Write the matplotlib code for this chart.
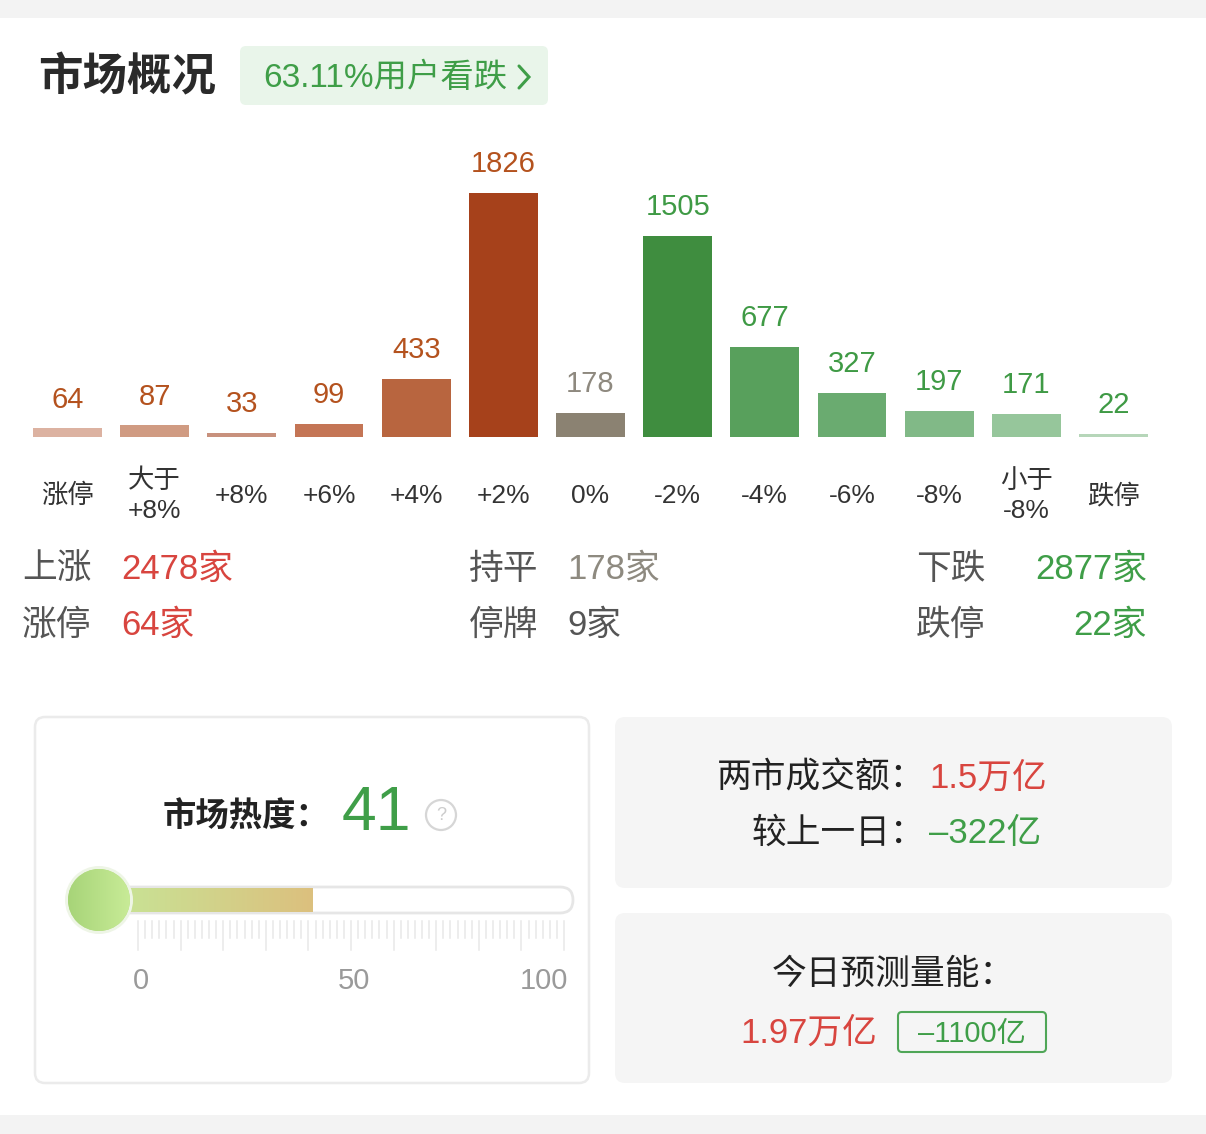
import numpy as np
import matplotlib
matplotlib.use("Agg")
import matplotlib.pyplot as plt
from matplotlib.patches import FancyBboxPatch, Circle, Rectangle
from matplotlib.transforms import blended_transform_factory
from matplotlib.colors import LinearSegmentedColormap
from matplotlib.lines import Line2D

plt.rcParams['font.family'] = ['Liberation Sans', 'Noto Sans CJK SC', 'DejaVu Sans']

# ---------------- data ----------------
title = "市场概况"
sentiment = "63.11%用户看跌"

categories = ["涨停", "大于\n+8%", "+8%", "+6%", "+4%", "+2%", "0%",
              "-2%", "-4%", "-6%", "-8%", "小于\n-8%", "跌停"]
counts = [64, 87, 33, 99, 433, 1826, 178, 1505, 677, 327, 197, 171, 22]
bar_colors = ["#dcb2a1", "#d09b82", "#c8917d", "#c47555", "#b8653f", "#a6411b",
              "#8b8272", "#3f8d3f", "#58a05c", "#6aab70", "#81b987", "#96c69b", "#b6d6b9"]
value_colors = ["#b4521e"] * 6 + ["#8e897f"] + ["#3f9a45"] * 6

summary_left_labels = ["上涨", "涨停"]
summary_left_values = ["2478家", "64家"]
summary_mid_labels = ["持平", "停牌"]
summary_mid_values = ["178家", "9家"]
summary_right_labels = ["下跌", "跌停"]
summary_right_values = ["2877家", "22家"]

heat_label = "市场热度："
heat_value = 41
heat_tick_labels = [0, 50, 100]

turnover_label = "两市成交额："
turnover_value = "1.5万亿"
change_label = "较上一日："
change_value = "–322亿"
forecast_label = "今日预测量能："
forecast_value = "1.97万亿"
forecast_change = "–1100亿"

RED = "#d8453f"
GREEN = "#3f9e48"
GRAY = "#8e8a80"
DARK = "#222222"
LABEL = "#555555"

# ---------------- figure ----------------
W, H = 1206, 1134
fig = plt.figure(figsize=(W / 100, H / 100), dpi=100)
fig.patch.set_facecolor("white")

bg = fig.add_axes([0, 0, 1, 1])
bg.set_xlim(0, W)
bg.set_ylim(H, 0)
bg.axis("off")

# top & bottom grey bands
bg.add_patch(Rectangle((0, 0), W, 18, facecolor="#f3f3f3", edgecolor="none"))
bg.add_patch(Rectangle((0, 1115), W, 19, facecolor="#f3f3f3", edgecolor="none"))

# title and sentiment badge
bg.text(38, 78, title, fontsize=32, fontweight="bold", color="#2a2a2a", ha="left", va="center")
bg.add_patch(FancyBboxPatch((240, 46), 308, 59, boxstyle="round,pad=0,rounding_size=6",
                            facecolor="#e9f5ea", edgecolor="none"))
bg.text(263, 78, sentiment, fontsize=24, color=GREEN, ha="left", va="center")
bg.add_line(Line2D([519, 529, 519], [66, 77, 88], color=GREEN, lw=2.2,
                   solid_capstyle="round", solid_joinstyle="miter"))

# ---------------- bar chart ----------------
ax = fig.add_axes([24 / W, (H - 437) / H, (1157 - 24) / W, 244 / H])
ax.patch.set_alpha(0)
x = np.arange(len(categories))
ax.bar(x, counts, width=0.79, color=bar_colors)
ax.set_xlim(-0.5, len(categories) - 0.5)
ax.set_ylim(0, max(counts))
ax.axis("off")
for i, v in enumerate(counts):
    ax.annotate(str(v), (i, v), xytext=(0, 15), textcoords="offset points",
                ha="center", va="baseline", fontsize=21, color=value_colors[i],
                annotation_clip=False)

trans = blended_transform_factory(ax.transData, bg.transData)
for i, cat in enumerate(categories):
    lines = cat.split("\n")
    n = len(lines)
    for k, line in enumerate(lines):
        yy = 496 + (k - (n - 1) / 2) * 31
        bg.text(i, yy, line, transform=trans, ha="center", va="center",
                fontsize=19, color="#333333")

# summary rows
rows_y = [569, 625]
for r in range(2):
    y = rows_y[r]
    bg.text(22, y, summary_left_labels[r], fontsize=25, color=LABEL, ha="left", va="center")
    bg.text(121, y, summary_left_values[r], fontsize=25, color=RED, ha="left", va="center")
    bg.text(469, y, summary_mid_labels[r], fontsize=25, color=LABEL, ha="left", va="center")
    bg.text(567, y, summary_mid_values[r], fontsize=25,
            color=GRAY if r == 0 else LABEL, ha="left", va="center")
    bg.text(916, y, summary_right_labels[r], fontsize=25, color=LABEL, ha="left", va="center")
    bg.text(1147, y, summary_right_values[r], fontsize=25, color=GREEN, ha="right", va="center")

# ---------------- heat card ----------------
bg.add_patch(FancyBboxPatch((35, 717), 554, 366, boxstyle="round,pad=0,rounding_size=10",
                            facecolor="white", edgecolor="#ebebeb", lw=1.8))
bg.text(163, 818, heat_label, fontsize=24, fontweight="bold", color=DARK, ha="left", va="center")
bg.text(342, 813, str(heat_value), fontsize=45, color=GREEN, ha="left", va="center")
bg.add_patch(Circle((441, 815), 15, facecolor="none", edgecolor="#d6d6d6", lw=1.6))
bg.text(441, 815, "?", fontsize=13, color="#cccccc", ha="center", va="center")

x0, x1 = 138, 564  # thermometer scale 0 -> 100


def sx(v):
    return x0 + (x1 - x0) * v / 100.0


tube = FancyBboxPatch((99, 887), 474, 26, boxstyle="round,pad=0,rounding_size=13",
                      facecolor="white", edgecolor="#e6e6e6", lw=2)
bg.add_patch(tube)
fill_cmap = LinearSegmentedColormap.from_list("fill", ["#c6e798", "#dcc07e"])
grad = np.linspace(0, 1, 256).reshape(1, -1)
im = bg.imshow(grad, cmap=fill_cmap, extent=(99, sx(heat_value), 912, 888),
               aspect="auto", zorder=2)
im.set_clip_path(tube)

# ticks
for k in range(61):
    v = k * 100 / 60
    major = (k % 6 == 0)
    bg.add_line(Line2D([sx(v), sx(v)], [921, 950 if major else 938],
                       color="#e8e8e8", lw=1.1))
for t in heat_tick_labels:
    ha = "right" if t == 100 else "center"
    xx = sx(t) + (4 if t == 100 else 3)
    bg.text(xx, 981, str(t), fontsize=21, color="#9a9a9a", ha=ha, va="center")

# bulb
bg.add_patch(Circle((99, 900), 34, facecolor="#eef5e6", edgecolor="none", zorder=3))
bulb = Circle((99, 900), 31, facecolor="#b8df8a", edgecolor="none", zorder=4)
bg.add_patch(bulb)
bulb_cmap = LinearSegmentedColormap.from_list("bulb", ["#a7d478", "#c8eb97"])
imb = bg.imshow(grad, cmap=bulb_cmap, extent=(68, 130, 931, 869), aspect="auto", zorder=5)
imb.set_clip_path(bulb)

# ---------------- right cards ----------------
bg.add_patch(FancyBboxPatch((615, 717), 557, 171, boxstyle="round,pad=0,rounding_size=10",
                            facecolor="#f5f5f5", edgecolor="none"))
bg.add_patch(FancyBboxPatch((615, 913), 557, 170, boxstyle="round,pad=0,rounding_size=10",
                            facecolor="#f5f5f5", edgecolor="none"))

bg.text(925, 778, turnover_label, fontsize=25, color=DARK, ha="right", va="center")
bg.text(929, 778, turnover_value, fontsize=25, color=RED, ha="left", va="center")
bg.text(925, 833, change_label, fontsize=25, color=DARK, ha="right", va="center")
bg.text(929, 833, change_value, fontsize=25, color=GREEN, ha="left", va="center")

bg.text(893, 974, forecast_label, fontsize=25, color=DARK, ha="center", va="center")
bg.text(740, 1033, forecast_value, fontsize=25, color=RED, ha="left", va="center")
bg.add_patch(FancyBboxPatch((898, 1012), 148, 40, boxstyle="round,pad=0,rounding_size=4",
                            facecolor="none", edgecolor="#4fa657", lw=1.5))
bg.text(972, 1034, forecast_change, fontsize=21, color=GREEN, ha="center", va="center")

bg.set_xlim(0, W)
bg.set_ylim(H, 0)

fig.savefig("out.png", dpi=100, facecolor="white")
